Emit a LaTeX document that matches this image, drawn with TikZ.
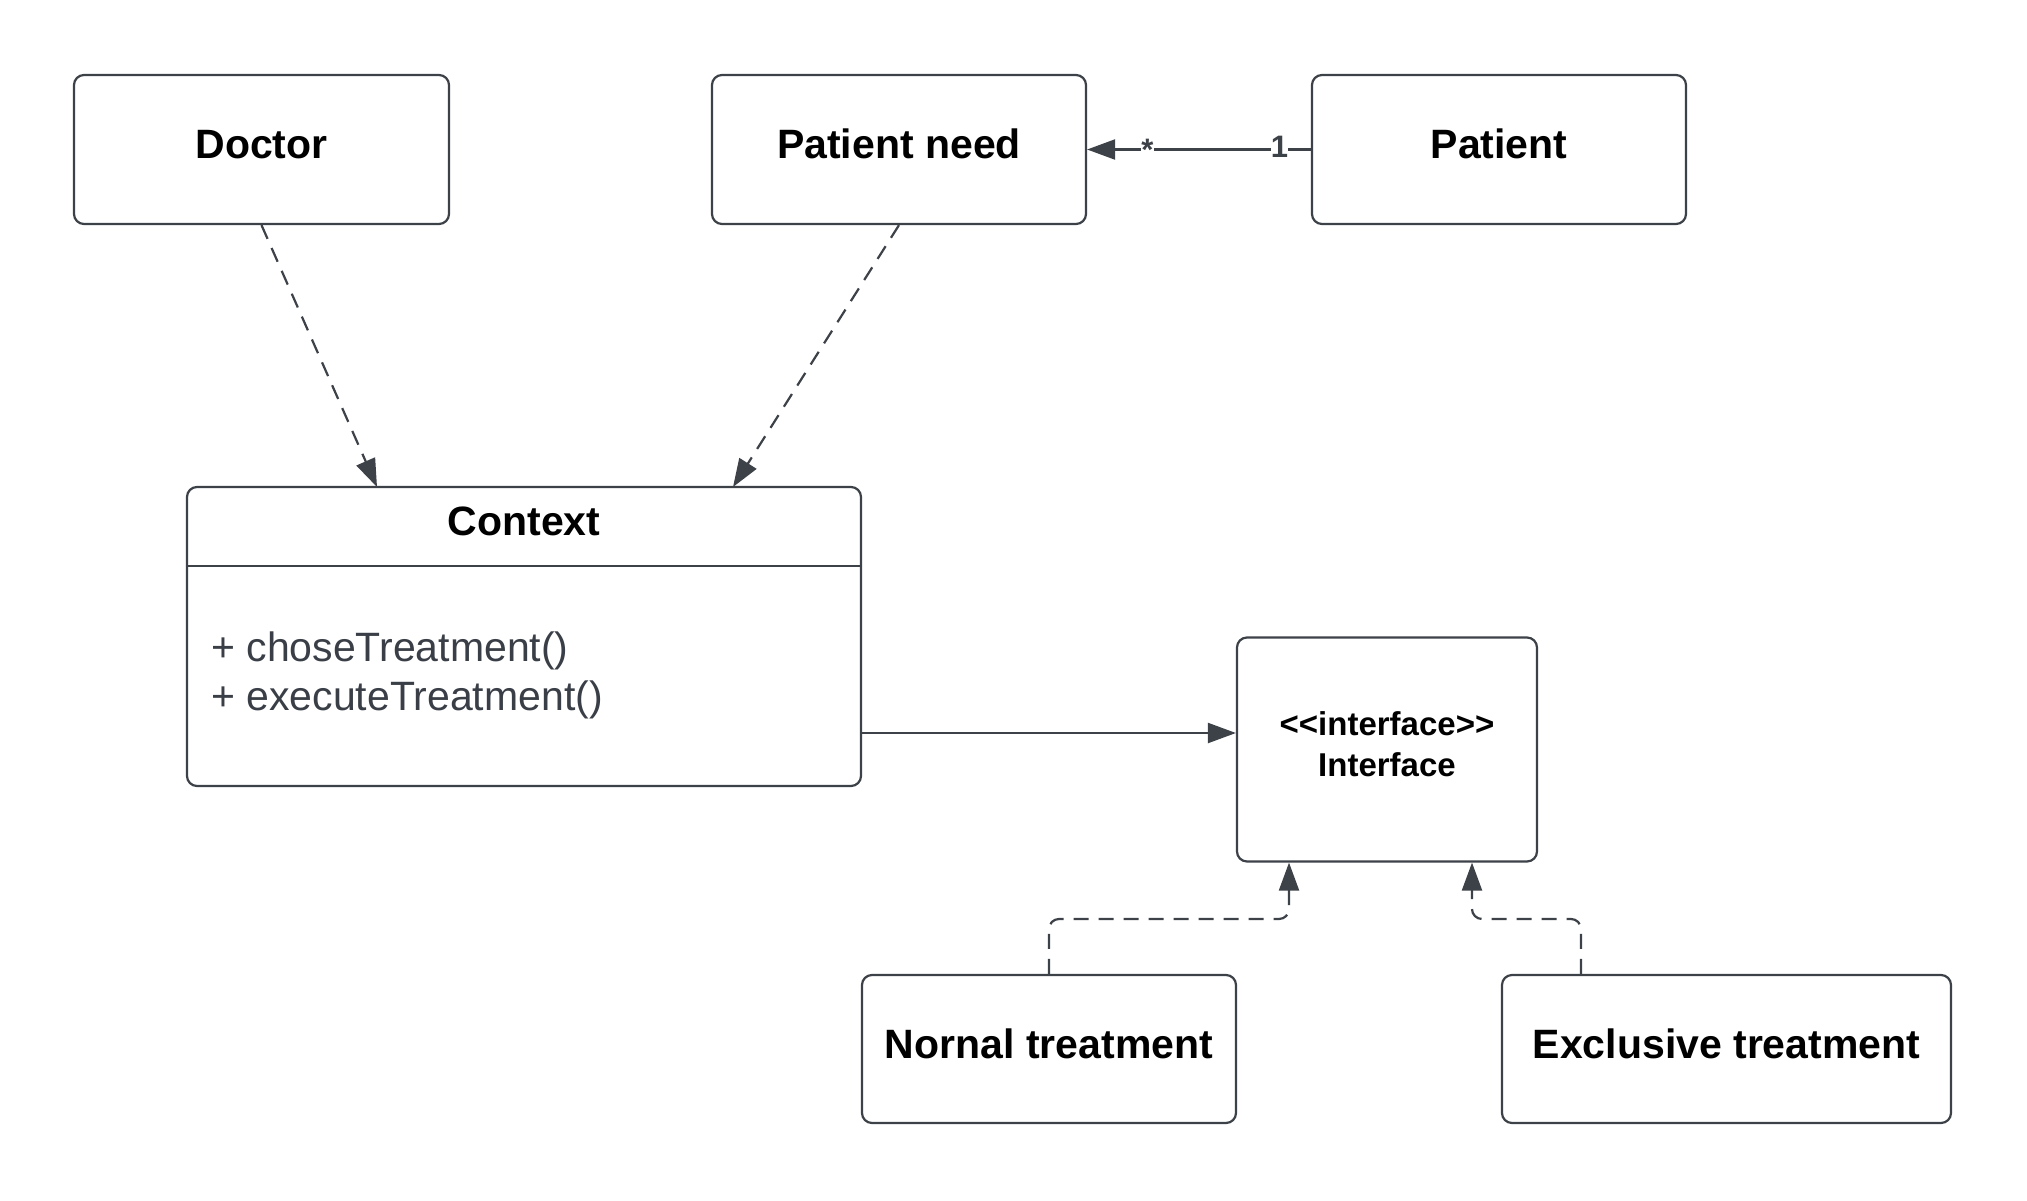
\documentclass[tikz,border=0pt]{standalone}
\usepackage{fontspec}
\setmainfont{Liberation Sans}
\usetikzlibrary{arrows.meta}
\definecolor{ln}{HTML}{3D4148}
\definecolor{mt}{HTML}{3A3F47}
\begin{document}
\begin{tikzpicture}[x=1pt,y=-1pt,
 box/.style={draw=ln, line width=2.2pt, rounded corners=10pt, fill=white, inner sep=0pt},
 lbl/.style={font=\fontsize{41}{49}\selectfont\bfseries, text height=30pt, text depth=12pt},
 conn/.style={draw=ln, line width=2.2pt},
 tip/.style={-{Triangle[length=28pt,width=20pt]}},
 dsh/.style={dash pattern=on 15pt off 10pt},
 mult/.style={font=\fontsize{31}{31}\selectfont\bfseries, text=ln, fill=white, inner sep=0pt},
 meth/.style={font=\fontsize{41}{49}\selectfont, text=mt, inner sep=0pt, anchor=base west}]
\useasboundingbox[fill=white] (0,0) rectangle (2027,1200);

% nodes
\node[box, lbl, minimum width=375pt, minimum height=149pt] (doc) at (261.5,149.5) {Doctor};
\node[box, lbl, minimum width=374pt, minimum height=149pt] (pn) at (899,149.5) {Patient need};
\node[box, lbl, minimum width=374pt, minimum height=149pt] (pat) at (1499,149.5) {Patient};

\node[box, minimum width=674pt, minimum height=299pt] (ctx) at (524,636.5) {};
\draw[conn] (ctx.west |- 0,566) -- (ctx.east |- 0,566);
\node[font=\fontsize{41}{49}\selectfont\bfseries] (ctxt) at (524,521) {Context};
\node[meth] (m1) at (211,661) {+ choseTreatment()};
\node[meth] (m2) at (211,710) {+ executeTreatment()};

\node[box, minimum width=300pt, minimum height=224pt] (ifc) at (1387,749.5) {};
\node[align=center, font=\fontsize{33}{41}\selectfont\bfseries] (ifct) at (1387,744) {<{}<interface>{}>\\Interface};

\node[box, lbl, minimum width=374pt, minimum height=148pt] (nt) at (1049,1049) {Nornal treatment};
\node[box, lbl, minimum width=449pt, minimum height=148pt] (ex) at (1726.5,1049) {Exclusive treatment};

% connectors
\coordinate (c1) at (377,487);
\coordinate (c2) at (733,487);
\draw[conn, dsh, tip] (doc.south) -- (c1);
\draw[conn, dsh, tip] (pn.south) -- (c2);

\draw[conn, tip] (pat.west) -- (pn.east);
\node[mult, anchor=base, text height=23pt, text depth=0pt] (mstar) at (1147.5,160) {*};
\node[mult] (mone) at (1279.5,147) {1};

\draw[conn, tip] (ctx.east |- 0,733) -- (ifc.west |- 0,733);

\draw[conn, dsh, tip, rounded corners=10pt] (nt.north) -- (1049,919) -- (1289,919) -- (ifc.south -| 1289,0);
\draw[conn, dsh, tip, rounded corners=10pt] (ex.north -| 1581,0) -- (1581,919) -- (1472,919) -- (ifc.south -| 1472,0);
\end{tikzpicture}
\end{document}
